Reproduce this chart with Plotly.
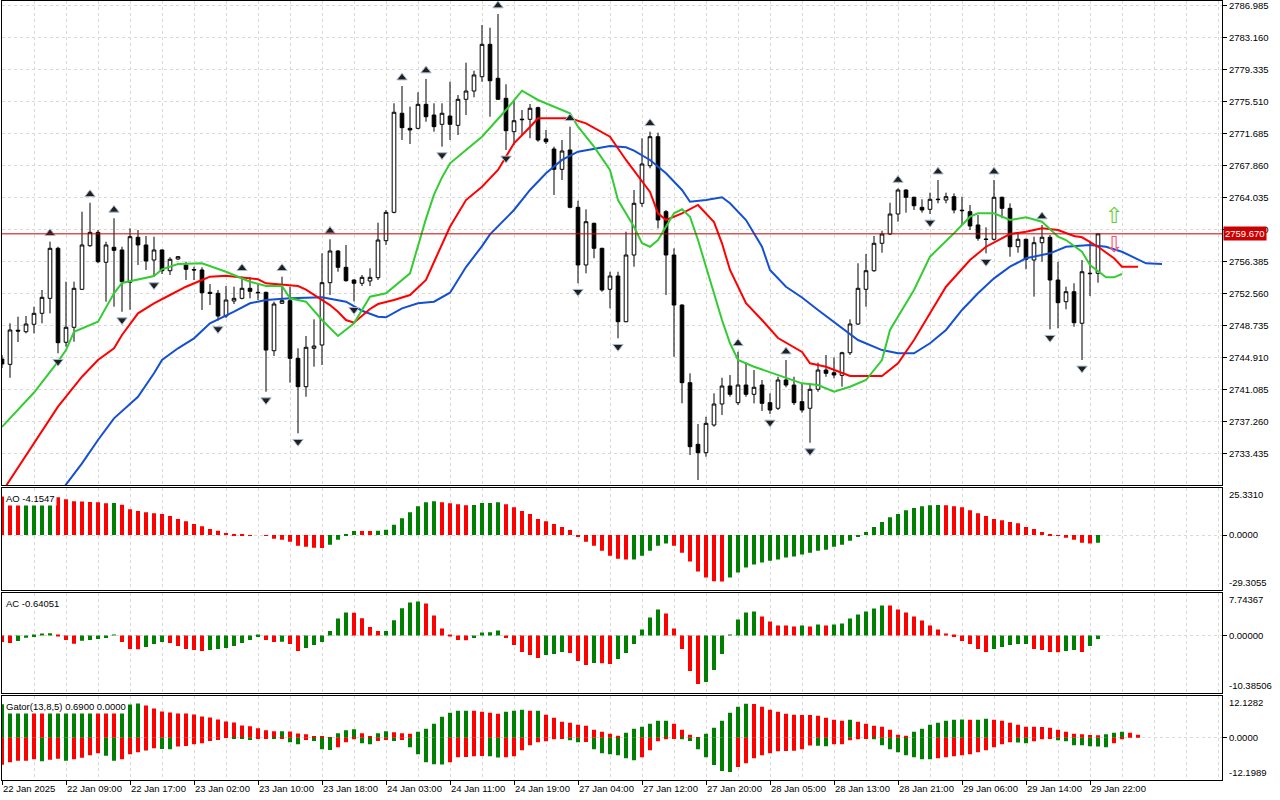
import plotly.graph_objects as go

# XAUUSD H1, 22 Jan 2025 01:00 .. 29 Jan 2025 23:00 (138 bars)
time_labels = ["22 Jan 2025", "22 Jan 09:00", "22 Jan 17:00", "23 Jan 02:00", "23 Jan 10:00",
               "23 Jan 18:00", "24 Jan 03:00", "24 Jan 11:00", "24 Jan 19:00", "27 Jan 04:00",
               "27 Jan 12:00", "27 Jan 20:00", "28 Jan 05:00", "28 Jan 13:00", "28 Jan 21:00",
               "29 Jan 06:00", "29 Jan 14:00", "29 Jan 22:00"]

opens = [2744.71, 2744.07, 2748.15, 2747.97, 2748.86, 2750.17, 2751.96, 2757.94, 2746.71, 2748.50,
         2753.04, 2758.25, 2759.85, 2756.27, 2758.06, 2757.74, 2753.88, 2759.26, 2758.34, 2756.54,
         2757.74, 2755.26, 2756.66, 2755.94, 2755.40, 2755.35, 2752.68, 2752.56, 2749.85, 2751.64,
         2751.96, 2753.16, 2752.68, 2752.68, 2745.70, 2751.37, 2751.68, 2744.79, 2741.40, 2745.99,
         2746.38, 2753.83, 2757.62, 2755.67, 2754.15, 2753.76, 2754.03, 2754.43, 2758.85, 2762.24,
         2774.08, 2772.28, 2772.28, 2775.15, 2773.87, 2772.76, 2773.75, 2772.64, 2775.75, 2776.74,
         2778.45, 2782.32, 2778.26, 2775.87, 2771.88, 2773.30, 2773.36, 2774.75, 2771.01, 2769.81,
         2767.38, 2769.69, 2762.84, 2755.95, 2760.93, 2757.94, 2753.04, 2754.63, 2749.17, 2757.14,
         2763.32, 2767.81, 2771.28, 2762.32, 2757.14, 2751.16, 2741.88, 2734.51, 2733.51, 2736.82,
         2739.33, 2741.48, 2739.49, 2741.60, 2740.49, 2741.60, 2739.49, 2738.82, 2742.20, 2741.60,
         2739.61, 2738.82, 2741.09, 2743.39, 2743.07, 2742.76, 2745.46, 2748.89, 2753.04, 2755.26,
         2758.54, 2759.65, 2762.04, 2764.91, 2764.04, 2762.84, 2762.60, 2763.75, 2763.71, 2764.11,
         2762.50, 2762.32, 2760.73, 2759.05, 2759.02, 2764.04, 2762.72, 2758.13, 2759.02, 2756.54,
         2758.61, 2759.26, 2754.15, 2751.56, 2752.75, 2748.98, 2754.90, 2754.95]
highs = [2745.19, 2748.98, 2749.77, 2749.85, 2750.96, 2752.96, 2758.73, 2758.13, 2753.95, 2753.95,
         2762.32, 2763.39, 2760.13, 2758.73, 2761.53, 2758.13, 2760.33, 2760.13, 2759.41, 2759.33,
         2757.80, 2756.87, 2757.02, 2756.34, 2755.74, 2755.67, 2753.67, 2752.96, 2753.43, 2753.35,
         2754.55, 2754.50, 2753.76, 2752.75, 2751.56, 2754.55, 2753.35, 2745.99, 2747.46, 2749.45,
         2757.34, 2759.02, 2757.74, 2758.34, 2754.24, 2754.75, 2755.55, 2761.00, 2762.52, 2775.27,
         2777.34, 2774.87, 2776.59, 2778.18, 2775.27, 2775.27, 2777.85, 2776.26, 2780.13, 2779.17,
         2784.63, 2784.31, 2785.95, 2777.54, 2775.67, 2774.47, 2775.19, 2774.87, 2772.08, 2770.09,
         2770.89, 2772.48, 2763.63, 2762.60, 2761.00, 2758.00, 2755.14, 2755.14, 2759.93, 2764.91,
         2771.09, 2771.88, 2771.76, 2762.52, 2757.94, 2751.25, 2743.00, 2736.94, 2737.81, 2740.61,
         2742.47, 2742.80, 2745.58, 2744.31, 2743.39, 2742.20, 2740.61, 2742.59, 2744.59, 2742.59,
         2741.80, 2741.80, 2744.27, 2745.19, 2744.90, 2745.58, 2749.45, 2756.15, 2757.26, 2759.41,
         2760.04, 2763.39, 2765.10, 2764.99, 2764.11, 2763.80, 2764.59, 2766.10, 2764.59, 2764.51,
         2764.11, 2763.12, 2761.92, 2760.45, 2766.10, 2764.11, 2763.32, 2759.73, 2759.10, 2759.33,
         2760.73, 2759.53, 2756.34, 2753.35, 2753.76, 2756.54, 2758.85, 2759.70]
lows = [2743.63, 2742.47, 2746.74, 2747.78, 2747.78, 2748.98, 2750.17, 2745.39, 2746.18, 2746.78,
        2752.96, 2758.13, 2756.15, 2751.56, 2750.96, 2750.36, 2750.60, 2755.94, 2755.35, 2754.55,
        2754.87, 2754.75, 2756.54, 2754.15, 2754.15, 2750.57, 2751.16, 2749.30, 2749.60, 2751.28,
        2751.84, 2751.96, 2751.76, 2740.80, 2745.07, 2751.28, 2741.88, 2735.83, 2740.20, 2743.79,
        2743.99, 2752.36, 2755.14, 2753.95, 2751.60, 2753.43, 2753.43, 2754.15, 2758.34, 2762.12,
        2770.89, 2770.41, 2772.16, 2773.07, 2771.88, 2770.09, 2770.89, 2771.48, 2773.87, 2775.99,
        2777.85, 2773.67, 2775.67, 2769.69, 2770.29, 2771.48, 2771.09, 2770.68, 2770.41, 2764.31,
        2766.10, 2762.72, 2753.76, 2754.95, 2756.75, 2752.75, 2750.77, 2747.18, 2749.10, 2755.74,
        2762.91, 2767.50, 2760.33, 2752.36, 2744.98, 2739.41, 2733.23, 2730.25, 2733.03, 2736.62,
        2738.02, 2740.20, 2739.21, 2740.20, 2739.41, 2738.49, 2738.13, 2738.61, 2741.33, 2739.21,
        2738.29, 2734.70, 2740.80, 2742.59, 2742.40, 2741.40, 2745.19, 2748.77, 2750.96, 2755.14,
        2757.42, 2759.53, 2761.12, 2762.20, 2762.52, 2762.20, 2762.04, 2763.32, 2763.32, 2762.12,
        2760.73, 2760.13, 2758.85, 2757.34, 2758.85, 2761.53, 2756.94, 2757.42, 2755.43, 2752.16,
        2756.34, 2748.26, 2748.38, 2750.65, 2748.57, 2744.59, 2752.24, 2753.83]
closes = [2744.11, 2748.18, 2748.05, 2748.89, 2750.17, 2752.08, 2757.94, 2746.66, 2748.50, 2753.16,
          2758.34, 2759.85, 2756.34, 2758.34, 2757.70, 2753.95, 2759.33, 2758.34, 2756.42, 2757.74,
          2755.26, 2756.63, 2756.94, 2755.43, 2755.35, 2752.63, 2752.56, 2749.85, 2751.76, 2751.96,
          2753.16, 2752.80, 2752.63, 2745.78, 2751.28, 2751.68, 2744.79, 2741.40, 2746.11, 2746.26,
          2753.83, 2757.62, 2755.67, 2754.07, 2753.76, 2754.47, 2754.47, 2758.93, 2762.24, 2774.20,
          2772.36, 2772.08, 2775.15, 2773.67, 2772.48, 2774.08, 2772.76, 2775.75, 2776.74, 2778.66,
          2782.32, 2777.97, 2775.75, 2772.00, 2773.19, 2773.36, 2774.68, 2770.89, 2770.68, 2767.38,
          2769.57, 2762.84, 2755.95, 2761.12, 2757.94, 2752.96, 2754.63, 2749.17, 2757.14, 2763.32,
          2768.02, 2771.28, 2761.32, 2757.14, 2751.16, 2741.88, 2734.23, 2733.51, 2737.02, 2739.33,
          2741.48, 2740.49, 2741.60, 2740.49, 2741.33, 2739.41, 2738.61, 2742.20, 2741.60, 2739.49,
          2738.61, 2741.09, 2743.39, 2743.00, 2742.80, 2745.46, 2748.89, 2753.16, 2755.26, 2758.54,
          2759.65, 2762.04, 2764.91, 2764.04, 2763.03, 2762.52, 2763.80, 2763.80, 2764.11, 2762.52,
          2762.44, 2760.61, 2759.14, 2759.00, 2764.04, 2762.72, 2758.13, 2759.02, 2756.63, 2758.61,
          2759.26, 2754.15, 2751.44, 2752.75, 2749.05, 2755.14, 2754.95, 2759.67]

# Alligator lines, sampled along the drawn (already shifted) curves
jaw_bars = [4, 8, 10, 12, 14, 17, 19, 20, 22, 24, 26, 29, 31, 33, 36, 40, 43, 45, 47, 48,
            50, 52, 54, 56, 58, 60, 61, 64, 66, 68, 70, 72, 76, 78, 79, 81, 83, 85, 86, 88,
            90, 91, 93, 95, 96, 98, 100, 102, 105, 107, 110, 112, 114, 116, 118, 120, 122, 124, 126, 128,
            131, 133, 136, 138, 140, 143, 145]
jaw = [2724.63, 2729.65, 2732.24, 2735.03, 2737.62, 2740.20, 2743.00, 2744.59, 2745.99, 2747.18,
       2748.98, 2750.36, 2751.37, 2751.76, 2751.96, 2752.08, 2751.56, 2750.48, 2749.77, 2749.69,
       2750.77, 2751.37, 2751.56, 2752.63, 2755.70, 2758.20, 2759.60, 2762.52, 2764.91, 2766.91,
       2768.50, 2769.49, 2770.17, 2770.01, 2769.61, 2768.50, 2766.91, 2764.91, 2763.51, 2763.71,
       2764.04, 2763.32, 2761.32, 2758.13, 2755.35, 2753.35, 2752.06, 2750.57, 2748.38, 2746.98,
       2745.78, 2745.39, 2745.39, 2746.59, 2748.18, 2750.57, 2752.56, 2754.35, 2755.74, 2756.75,
       2757.34, 2758.13, 2758.34, 2758.13, 2757.53, 2756.15, 2756.06]
teeth_bars = [0, 4, 7, 10, 12, 14, 15, 17, 19, 21, 23, 25, 26, 28, 30, 32, 33, 35, 37, 38,
              41, 42, 43, 44, 46, 47, 49, 51, 53, 54, 56, 58, 60, 62, 64, 66, 67, 71, 73, 76,
              78, 81, 82, 83, 85, 87, 89, 90, 91, 93, 95, 97, 100, 101, 103, 106, 110, 112, 114, 116,
              118, 121, 123, 126, 128, 130, 132, 134, 135, 137, 139, 140, 142]
teeth = [2728.81, 2734.63, 2739.01, 2742.59, 2744.59, 2745.99, 2747.58, 2750.17, 2751.37, 2752.36,
         2753.35, 2754.15, 2754.55, 2754.67, 2754.47, 2754.24, 2753.76, 2753.55, 2753.43, 2753.01,
         2751.16, 2750.36, 2749.37, 2749.05, 2750.69, 2751.28, 2751.76, 2752.36, 2754.15, 2756.30,
         2760.52, 2763.71, 2765.30, 2767.30, 2770.49, 2772.44, 2773.48, 2773.48, 2772.88, 2771.28,
         2768.50, 2764.67, 2762.12, 2761.32, 2762.12, 2763.12, 2761.08, 2758.54, 2755.35, 2751.37,
         2749.37, 2747.22, 2745.55, 2744.19, 2743.79, 2742.68, 2742.68, 2744.19, 2746.98, 2750.17,
         2753.35, 2756.54, 2758.13, 2759.65, 2759.92, 2760.33, 2760.13, 2759.41, 2759.26, 2758.13,
         2756.75, 2755.74, 2755.74]
lips_bars = [0, 4, 7, 8, 9, 12, 14, 15, 19, 20, 22, 25, 28, 31, 33, 35, 36, 38, 40, 42,
             44, 46, 48, 50, 51, 53, 54, 55, 56, 58, 60, 63, 65, 67, 69, 71, 72, 74, 76, 77,
             79, 80, 81, 82, 84, 85, 86, 87, 88, 89, 90, 91, 92, 94, 97, 100, 102, 104, 106, 108,
             110, 111, 114, 116, 119, 121, 122, 124, 126, 128, 130, 132, 133, 135, 136, 138, 139, 140]
lips = [2736.60, 2740.70, 2744.39, 2745.78, 2747.97, 2749.17, 2752.56, 2753.80, 2754.63, 2755.43,
        2756.06, 2756.15, 2755.14, 2753.95, 2753.43, 2753.43, 2751.96, 2751.56, 2749.37, 2747.46,
        2748.98, 2752.16, 2752.56, 2754.15, 2754.95, 2761.49, 2764.36, 2766.41, 2768.10, 2769.69,
        2771.28, 2774.47, 2776.78, 2775.67, 2774.87, 2774.08, 2772.48, 2770.09, 2767.30, 2763.71,
        2760.52, 2758.54, 2758.13, 2758.93, 2762.12, 2762.60, 2761.72, 2758.93, 2755.74, 2752.56,
        2749.37, 2746.59, 2744.59, 2743.79, 2742.80, 2741.80, 2741.60, 2740.80, 2741.40, 2742.20,
        2744.59, 2748.18, 2752.96, 2756.94, 2759.73, 2761.72, 2762.12, 2762.12, 2761.32, 2761.65,
        2761.12, 2759.33, 2758.93, 2757.53, 2755.94, 2754.47, 2754.47, 2754.87]

fractal_up_bars = [6, 11, 14, 30, 35, 41, 50, 53, 62, 71, 81, 92, 98, 112, 117, 124, 130]
fractal_down_bars = [7, 15, 19, 27, 33, 37, 44, 55, 63, 72, 77, 87, 96, 101, 116, 123, 131, 135]

ao = [20.7, 20.3, 20.0, 20.2, 20.5, 20.8, 21.1, 20.4, 19.3, 18.2,
      18.1, 17.8, 17.6, 17.1, 17.2, 16.3, 13.9, 12.9, 12.3, 11.8,
      11.3, 10.2, 8.6, 7.5, 5.9, 4.8, 3.2, 2.3, 1.1, 0.5,
      0.2, -0.1, 0.0, -0.5, -2.0, -2.5, -3.6, -5.7, -6.3, -6.8,
      -6.9, -5.2, -2.5, 0.2, 2.25, 2.2, 2.15, 2.3, 2.8, 5.5,
      9.1, 12.3, 15.5, 17.7, 18.2, 17.7, 17.1, 16.6, 16.1, 16.2,
      17.2, 17.3, 17.7, 16.6, 15.0, 12.9, 11.3, 8.6, 7.5, 5.9,
      4.3, 2.7, -0.9, -3.6, -5.7, -8.4, -11.1, -12.7, -13.2, -13.1,
      -11.1, -8.4, -5.7, -4.6, -5.7, -9.5, -14.3, -19.6, -22.9, -24.8,
      -25.0, -22.9, -20.2, -17.5, -15.9, -14.8, -13.8, -13.2, -12.1, -11.6,
      -10.5, -9.5, -8.4, -7.9, -6.3, -5.2, -3.0, -0.9, 1.6, 4.3,
      7.0, 9.6, 11.3, 13.4, 14.5, 15.5, 16.1, 16.2, 16.1, 15.5,
      15.0, 13.4, 11.8, 10.2, 8.6, 8.0, 7.0, 6.4, 4.3, 3.2,
      1.6, 0.5, -0.4, -1.4, -2.5, -4.1, -4.6, -4.1547]
ac = [-1.2, -1.35, -1.0, -0.4, -0.3, 0.2, 0.4, -0.06, -0.84, -1.5,
      -0.96, -0.84, -0.66, -0.48, 0.1, -1.2, -2.46, -2.5, -2.1, -1.56,
      -1.2, -1.38, -1.92, -2.46, -2.64, -2.82, -2.64, -2.46, -2.28, -1.92,
      -1.38, -0.84, -0.3, -0.84, -1.2, -1.15, -1.56, -2.82, -2.28, -1.74,
      -1.2, 0.78, 3.06, 4.14, 4.1, 3.1, 1.5, 0.78, 0.8, 2.76,
      4.92, 5.94, 6.1, 5.76, 3.6, 1.26, -0.1, -0.84, -0.86, -0.48,
      0.54, 0.56, 0.9, -0.48, -1.74, -3.0, -3.54, -4.08, -3.54, -3.36,
      -3.0, -3.18, -4.62, -5.34, -4.98, -5.0, -5.16, -4.26, -3.18, -1.56,
      1.08, 3.24, 4.68, 3.96, 1.26, -2.46, -6.42, -8.76, -8.4, -6.24,
      -3.36, 0.02, 2.88, 4.14, 4.32, 3.42, 2.52, 1.8, 1.78, 1.62,
      1.8, 1.62, 1.98, 1.8, 1.98, 2.16, 3.06, 3.78, 4.32, 4.86,
      5.4, 5.38, 4.68, 4.14, 3.42, 2.7, 1.8, 1.08, 0.36, -0.3,
      -1.02, -1.56, -2.46, -3.0, -2.46, -2.1, -1.74, -1.56, -1.54, -2.46,
      -2.64, -3.0, -3.02, -2.82, -2.64, -3.0, -1.92, -0.64051]
gator_upper = [9.75, 9.8, 9.85, 9.9, 9.7, 9.5, 9.55, 9.6, 9.65, 9.7,
               9.75, 9.8, 9.6, 9.4, 9.2, 9.4, 9.65, 9.94, 9.36, 8.49,
               7.63, 7.34, 7.05, 7.0, 6.76, 6.18, 5.89, 5.31, 4.73, 4.44,
               3.57, 3.28, 2.70, 2.12, 1.83, 1.85, 1.80, 1.20, 0.97, 0.39,
               0.35, 0.10, 1.25, 2.12, 2.41, 1.25, 0.50, 1.25, 1.83, 1.54,
               1.25, 1.16, 1.74, 2.61, 4.05, 6.08, 7.24, 7.82, 7.85, 7.80,
               7.53, 7.24, 6.95, 7.53, 7.82, 8.11, 7.82, 7.85, 6.66, 5.79,
               4.63, 4.34, 3.76, 3.47, 2.32, 1.74, 1.16, 0.58, 1.45, 2.61,
               3.19, 4.05, 4.92, 4.95, 4.05, 2.32, 0.87, 0.05, 1.16, 2.90,
               4.92, 7.24, 8.98, 9.85, 9.80, 8.98, 8.11, 7.53, 6.95, 6.66,
               6.62, 6.60, 6.37, 5.79, 5.21, 4.92, 5.21, 4.63, 4.05, 3.47,
               3.19, 2.32, 0.87, 0.58, 1.74, 2.61, 3.76, 4.34, 4.92, 5.21,
               5.25, 5.20, 5.23, 5.50, 5.21, 4.92, 4.34, 3.76, 3.19, 3.15,
               3.10, 2.90, 2.32, 1.74, 1.16, 0.95, 0.78, 0.69, 0.95, 1.45,
               1.74, 1.45, 0.87]
gator_lower = [-7.92, -7.14, -6.76, -6.70, -6.27, -6.85, -6.47, -6.18, -6.76, -6.27,
               -5.89, -5.12, -4.54, -5.31, -6.76, -6.27, -4.83, -4.25, -3.76, -3.09,
               -3.28, -3.38, -2.61, -2.41, -1.93, -1.64, -0.97, -0.68, -0.10, -0.19,
               -0.22, -0.68, -0.39, -0.20, -0.25, -0.20, -1.35, -1.93, -0.68, -0.97,
               -3.38, -3.57, -2.80, -1.35, -0.48, -1.64, -1.93, -0.97, -0.68, -0.97,
               -0.68, -2.80, -4.83, -7.14, -7.72, -7.82, -7.14, -5.69, -5.65, -5.41,
               -5.38, -5.45, -5.79, -5.69, -5.41, -3.67, -2.22, -1.35, -1.06, -0.48,
               -0.19, -0.77, -1.35, -1.30, -3.38, -4.54, -4.83, -5.12, -5.98, -6.56,
               -5.69, -3.67, -1.06, -0.48, -0.19, -0.48, -0.97, -3.38, -5.69, -8.01,
               -9.75, -10.04, -8.59, -7.43, -5.98, -5.12, -4.54, -3.96, -3.90, -3.85,
               -3.38, -2.30, -2.40, -2.50, -1.93, -1.90, -0.77, -0.48, -0.19, -0.48,
               -2.22, -3.38, -4.25, -5.12, -5.69, -6.27, -6.30, -5.98, -5.69, -5.41,
               -5.12, -4.83, -4.25, -3.67, -2.80, -1.93, -1.35, -1.40, -1.64, -1.06,
               -0.48, -0.19, -0.77, -1.06, -2.22, -2.25, -2.51, -2.55, -2.80, -1.64,
               -0.48]

price_ticks = [2733.435, 2737.260, 2741.085, 2744.910, 2748.735, 2752.560, 2756.385, 2760.210,
               2764.035, 2767.860, 2771.685, 2775.510, 2779.335, 2783.160, 2786.985]
last_price = 2759.670
ao_scale = (-29.3055, 25.3310)
ac_scale = (-10.38506, 7.74367)
gator_scale = (-12.1989, 12.1282)
signal_bar = 139
signal_buy_price = 2761.6
signal_sell_price = 2758.2

W, H = 1280, 800
GRID = "#d9d9d9"
UP, DOWN = "#008000", "#ff0000"
FONT = "Liberation Sans, Arial, sans-serif"


def bar_colors(values, by_size=False):
    cols = []
    for i in range(1, len(values)):
        cur, prev = values[i], values[i - 1]
        if by_size:
            cur, prev = abs(cur), abs(prev)
        cols.append(UP if cur > prev else DOWN)
    return [cols[0]] + cols


def ydom(top, bottom):
    return [1 - bottom / H, 1 - top / H]


bars = list(range(len(opens)))

fig = go.Figure()
fig.add_trace(go.Candlestick(
    x=bars, open=opens, high=highs, low=lows, close=closes,
    increasing=dict(line=dict(color="black", width=1), fillcolor="white"),
    decreasing=dict(line=dict(color="black", width=1), fillcolor="black"),
    whiskerwidth=0, hoverinfo="skip", xaxis="x", yaxis="y"))

for xs, ys, color in [(jaw_bars, jaw, "#1450d2"), (teeth_bars, teeth, "#ff0000"), (lips_bars, lips, "#33cc33")]:
    fig.add_trace(go.Scatter(x=xs, y=ys, mode="lines", line=dict(color=color, width=2),
                             hoverinfo="skip", xaxis="x", yaxis="y"))

# bill williams fractals, drawn a little above the high / below the low
fig.add_trace(go.Scatter(
    x=fractal_up_bars, y=[highs[i] + 1.0 for i in fractal_up_bars], mode="markers",
    marker=dict(symbol="triangle-up", size=9, color="#202020", line=dict(color="#a9bccf", width=1)),
    hoverinfo="skip", xaxis="x", yaxis="y"))
fig.add_trace(go.Scatter(
    x=fractal_down_bars, y=[lows[i] - 1.0 for i in fractal_down_bars], mode="markers",
    marker=dict(symbol="triangle-down", size=9, color="#202020", line=dict(color="#a9bccf", width=1)),
    hoverinfo="skip", xaxis="x", yaxis="y"))

# buy / sell signal arrows at the right edge, stacked in one label
fig.add_trace(go.Scatter(
    x=[signal_bar], y=[(signal_buy_price + signal_sell_price) / 2], mode="text",
    text=["<span style='color:#5fd030'>\u21e7</span><br><span style='color:#ff5070'>\u21e9</span>"],
    textposition="middle center", textfont=dict(family="DejaVu Sans", size=22),
    hoverinfo="skip", xaxis="x", yaxis="y"))

fig.add_trace(go.Bar(x=bars, y=ao, width=0.5, marker=dict(color=bar_colors(ao), line_width=0),
                     hoverinfo="skip", xaxis="x2", yaxis="y2"))
fig.add_trace(go.Bar(x=bars, y=ac, width=0.5, marker=dict(color=bar_colors(ac), line_width=0),
                     hoverinfo="skip", xaxis="x3", yaxis="y3"))
fig.add_trace(go.Bar(x=list(range(len(gator_upper))), y=gator_upper, width=0.5,
                     marker=dict(color=bar_colors(gator_upper), line_width=0),
                     hoverinfo="skip", xaxis="x4", yaxis="y4"))
fig.add_trace(go.Bar(x=list(range(len(gator_lower))), y=gator_lower, width=0.5,
                     marker=dict(color=bar_colors(gator_lower, by_size=True), line_width=0),
                     hoverinfo="skip", xaxis="x4", yaxis="y4"))

label_bars = list(range(0, 8 * len(time_labels), 8))
grid_bars = [b for b in range(4, 153, 4) if b not in label_bars]


def xaxis(anchor, labels=False):
    return dict(domain=[2 / W, 1222 / W], anchor=anchor, range=[0, 152.5], matches=None if anchor == "y" else "x",
                showline=True, mirror=True, linecolor="black", linewidth=1, zeroline=False,
                tickmode="array", tickvals=label_bars, ticktext=time_labels,
                showticklabels=labels, ticks="outside" if labels else "", ticklen=4, tickcolor="black",
                ticklabelposition="outside right",
                showgrid=True, gridcolor=GRID, griddash="3px,3px", gridwidth=1,
                minor=dict(tickmode="array", tickvals=grid_bars, showgrid=True, gridcolor=GRID,
                           griddash="3px,3px", gridwidth=1, ticks=""),
                rangeslider=dict(visible=False), fixedrange=True)


def sub_yaxis(anchor, dom, scale, zero_text):
    return dict(domain=dom, anchor=anchor, side="right", range=list(scale), tickvals=[0],
                ticktext=[zero_text], ticks="outside", ticklen=4, tickcolor="black",
                showline=True, mirror=True, linecolor="black", linewidth=1,
                showgrid=True, gridcolor=GRID, griddash="3px,3px", zeroline=False, fixedrange=True)


fig.update_layout(
    width=W, height=H, margin=dict(l=0, r=0, t=0, b=0),
    paper_bgcolor="white", plot_bgcolor="white", showlegend=False, hovermode=False,
    barmode="overlay", boxgap=0.35,
    font=dict(family=FONT, size=9.5, color="black"),
    xaxis=xaxis("y"), xaxis2=xaxis("y2"), xaxis3=xaxis("y3"), xaxis4=xaxis("y4", labels=True),
    yaxis=dict(domain=ydom(1, 485), anchor="x", side="right", range=[2729.65, 2787.50],
               tickvals=price_ticks, ticktext=[f"{v:.3f}" for v in price_ticks],
               ticks="outside", ticklen=4, tickcolor="black", ticklabeloverflow="allow",
               showline=True, mirror=True, linecolor="black", linewidth=1,
               showgrid=True, gridcolor=GRID, griddash="3px,3px", zeroline=False, fixedrange=True),
    yaxis2=sub_yaxis("x2", ydom(488, 589.5), ao_scale, "0.0000"),
    yaxis3=sub_yaxis("x3", ydom(592.5, 693), ac_scale, "0.00000"),
    yaxis4=sub_yaxis("x4", ydom(696, 779.5), gator_scale, "0.0000"),
)

# current price line and its label
fig.add_shape(type="line", xref="x domain", x0=0, x1=1, yref="y", y0=last_price, y1=last_price,
              line=dict(color="#c80000", width=1))
fig.add_annotation(xref="x domain", x=1, xanchor="left", xshift=1, yref="y", y=last_price,
                   text=f"{last_price:.3f}", showarrow=False, bgcolor="#cc0000",
                   font=dict(color="white", size=9.5), borderpad=1)

# indicator titles (opaque, as in the terminal)
titles = [("y2", f"AO {ao[-1]:.4f}"), ("y3", f"AC {ac[-1]:.5f}"),
          ("y4", f"Gator(13,8,5) {gator_upper[len(opens) - 1]:.4f} 0.0000")]
for yref, text in titles:
    fig.add_annotation(xref="paper", x=4 / W, xanchor="left", yref=f"{yref} domain", y=1, yanchor="top",
                       yshift=-3, text=text, showarrow=False, bgcolor="white", borderpad=1)

# scale extremes of the sub windows
for yref, (lo, hi), fmt in [("y2", ao_scale, "{:.4f}"), ("y3", ac_scale, "{:.5f}"), ("y4", gator_scale, "{:.4f}")]:
    fig.add_annotation(xref="paper", x=1227 / W, xanchor="left", yref=f"{yref} domain", y=1, yanchor="top",
                       yshift=1, text=fmt.format(hi), showarrow=False)
    fig.add_annotation(xref="paper", x=1227 / W, xanchor="left", yref=f"{yref} domain", y=0, yanchor="bottom",
                       text=fmt.format(lo), showarrow=False)

# the page body keeps the browser's default 8px margin otherwise
fig.write_html("out.html", config={"displayModeBar": False},
               post_script="document.body.style.margin = '0';")
